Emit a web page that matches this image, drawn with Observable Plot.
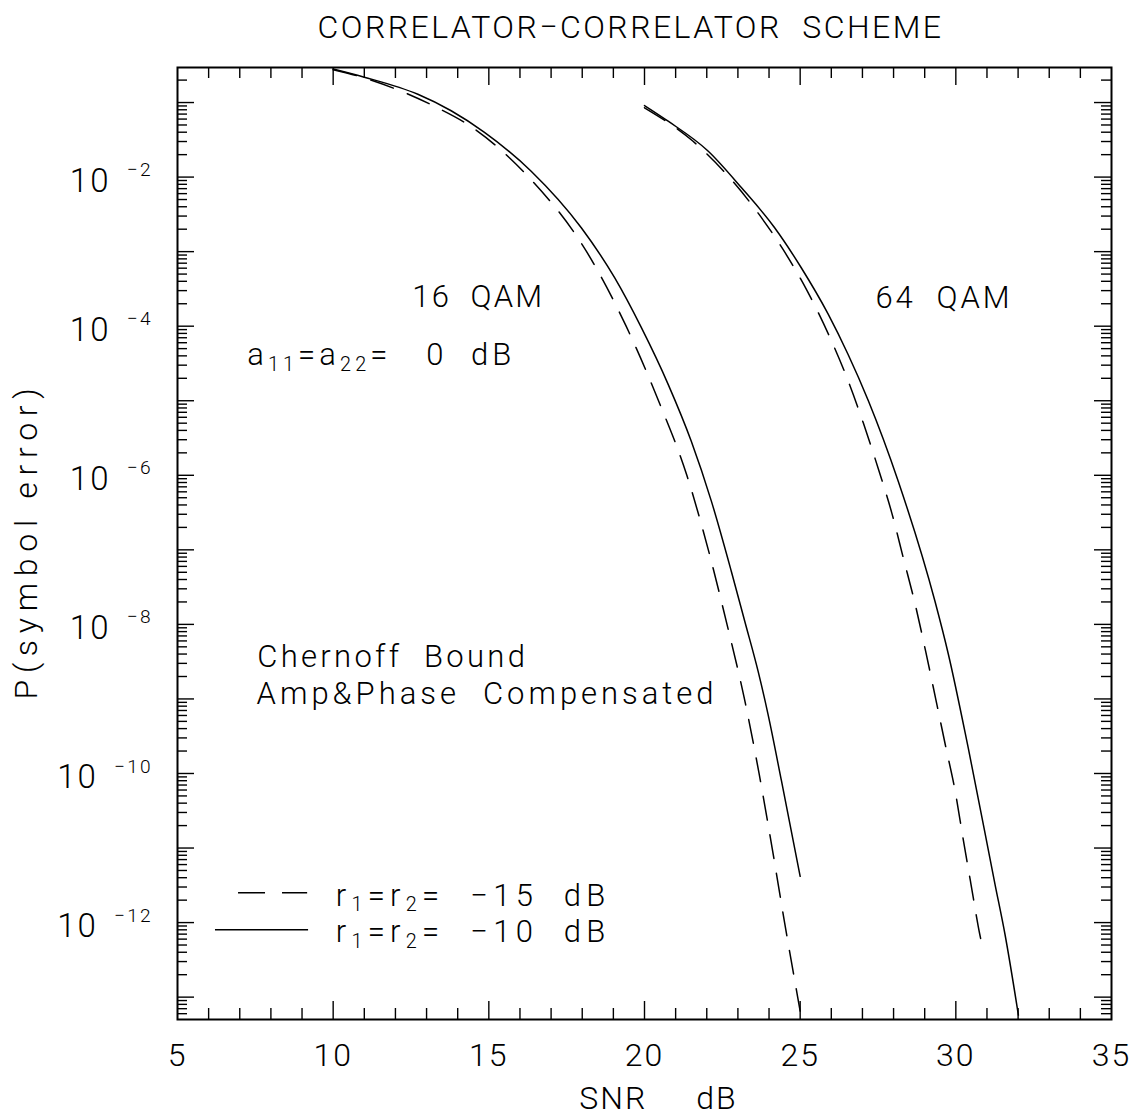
<!DOCTYPE html>
<html><head><meta charset="utf-8">
<script src="https://cdn.jsdelivr.net/npm/d3@7"></script>
<script src="https://cdn.jsdelivr.net/npm/@observablehq/plot@0.6"></script>
<style>
html,body{margin:0;padding:0;background:#fff;}
</style></head><body><div id="chart"></div>
<script>
// ---- data ----
const snr16Solid = [10.0, 11.0, 12.72, 13.79, 14.86, 16.36, 17.97, 19.04, 19.90, 20.76, 21.50, 22.15, 22.79, 23.22, 23.65, 23.97, 24.40, 25.0];
const pe16Solid  = [2.82e-1, 2.19e-1, 1.29e-1, 7.76e-2, 3.98e-2, 1.20e-2, 2.09e-3, 4.47e-4, 9.55e-5, 1.66e-5, 2.88e-6, 4.47e-7, 5.13e-8, 1.10e-8, 2.34e-9, 6.17e-10, 7.94e-11, 4.17e-12];

const snr16Dashed = [10.0, 11.0, 12.2, 13.25, 14.49, 15.66, 16.28, 18.14, 19.41, 20.45, 21.36, 22.05, 22.65, 23.21, 23.68, 24.10, 24.50, 24.92, 25.0];
const pe16Dashed  = [2.75e-1, 2.14e-1, 1.41e-1, 8.91e-2, 4.57e-2, 1.82e-2, 1e-2, 1e-3, 1e-4, 1e-5, 1e-6, 1e-7, 1e-8, 1e-9, 1e-10, 1e-11, 1e-12, 1e-13, 6.5e-14];

const snr64Solid = [20.0, 20.76, 22.04, 23.11, 24.18, 25.04, 25.90, 26.54, 27.19, 28.15, 29.33, 29.76, 30.40, 31.26, 31.58, 32.01];
const pe64Solid  = [9.12e-2, 5.62e-2, 2.24e-2, 7.24e-3, 2.09e-3, 6.03e-4, 1.45e-4, 4.17e-5, 1.0e-5, 8.32e-7, 2.04e-8, 3.98e-9, 2.19e-10, 3.24e-12, 6.92e-13, 5.75e-14];

const snr64Dashed = [20.0, 21.56, 22.63, 23.59, 24.45, 25.23, 25.90, 26.49, 27.03, 27.53, 27.94, 28.32, 28.70, 29.03, 29.35, 29.66, 29.98, 30.24, 30.48, 30.77, 30.85];
const pe64Dashed  = [8.51e-2, 3.02e-2, 1.096e-2, 3.55e-3, 1.07e-3, 2.95e-4, 7.94e-5, 2.09e-5, 5.01e-6, 1.15e-6, 3.16e-7, 7.59e-8, 1.82e-8, 4.37e-9, 1.02e-9, 2.45e-10, 5.75e-11, 1.29e-11, 3.39e-12, 6.92e-13, 4.79e-13];

const xTickLabels = [5, 10, 15, 20, 25, 30, 35];
const yTickExponents = [-2, -4, -6, -8, -10, -12];
const legendLabels = ["r_{1}=r_{2}=\u00a0\u00a0−15\u00a0\u00a0dB", "r_{1}=r_{2}=\u00a0\u00a0−10\u00a0\u00a0dB"];

const titleText = "CORRELATOR−CORRELATOR\u00a0\u00a0SCHEME";
const xLabel = "SNR\u00a0\u00a0\u00a0\u00a0\u00a0dB";
const yLabel = "P(symbol error)";
const label16 = "16\u00a0\u00a0QAM";
const label64 = "64\u00a0\u00a0QAM";
const labelGain = "a_{11}=a_{22}=\u00a0\u00a0\u00a00\u00a0\u00a0dB";
const labelMethod = ["Chernoff\u00a0\u00a0Bound", "Amp&Phase\u00a0\u00a0Compensated"];

// ---- layout ----
const W = 1142, H = 1116;
const mL = 177, mR = 31, mT = 67, mB = 97;
const FW = W - mL - mR, FH = H - mT - mB;
const xDomain = [5, 35];
const yDomain = [10 ** -13.3, 10 ** -0.53];
const FONT = "'Roboto', 'Noto Sans', sans-serif";

const toRows = (xs, ys) => xs.map((x, i) => ({snr: x, pe: ys[i]}));

// tick values
const yMajor = d3.range(-13, 0).map(d => 10 ** d);
const yMinor = [];
for (let d = -14; d <= -1; d++) for (let k = 2; k <= 9; k++) {
  const v = k * 10 ** d;
  if (v > yDomain[0] && v < yDomain[1]) yMinor.push(v);
}
const xAll = d3.range(6, 35);
const xMajor = xAll.filter(v => v % 5 === 0);
const xMinor = xAll.filter(v => v % 5 !== 0);

// text placement (layout)
const annotations = [
  {x: 12.54, y: 10 ** -3.745, text: label16},
  {x: 27.42, y: 10 ** -3.759, text: label64},
  {x: 7.24, y: 10 ** -4.527, text: labelGain},
  {x: 7.56, y: 10 ** -8.578, text: labelMethod[0]},
  {x: 7.54, y: 10 ** -9.065, text: labelMethod[1]},
  {x: 10.08, y: 10 ** -11.771, text: legendLabels[0]},
  {x: 10.08, y: 10 ** -12.267, text: legendLabels[1]}
];
const legendLines = [
  {x1: 6.96, x2: 9.18, y: 10 ** -11.60, dash: "27,17"},
  {x1: 6.22, x2: 9.21, y: 10 ** -12.097, dash: null}
];
// widths (px) of some texts in the reference
const targetWidths = {
  [titleText]: 626, [yLabel]: 318, [legendLabels[0]]: 275, [legendLabels[1]]: 275,
  [labelGain]: 268, [labelMethod[0]]: 271, [labelMethod[1]]: 461, [label16]: 132, [label64]: 137
};

const MAJ = 17, MIN = 10, XMAJ = 18, XMIN = 11;
const tickStyle = {stroke: "#000", strokeWidth: 1.4};
const TXT = {fill: "#000", fontWeight: 300};

const chart = Plot.plot({
  width: W, height: H,
  marginLeft: mL, marginRight: mR, marginTop: mT, marginBottom: mB,
  style: {fontFamily: FONT, fontSize: "31px", fontWeight: "300", letterSpacing: "2px", background: "#fff", color: "#000", overflow: "visible"},
  x: {domain: xDomain, axis: null},
  y: {type: "log", domain: yDomain, axis: null},
  marks: [
    // inward ticks on all four sides
    Plot.tickY(yMajor, {y: d => d, insetRight: FW - MAJ, ...tickStyle}),
    Plot.tickY(yMinor, {y: d => d, insetRight: FW - MIN, ...tickStyle}),
    Plot.tickY(yMajor, {y: d => d, insetLeft: FW - MAJ, ...tickStyle}),
    Plot.tickY(yMinor, {y: d => d, insetLeft: FW - MIN, ...tickStyle}),
    Plot.tickX(xMajor, {x: d => d, insetTop: FH - XMAJ, ...tickStyle}),
    Plot.tickX(xMinor, {x: d => d, insetTop: FH - XMIN, ...tickStyle}),
    Plot.tickX(xMajor, {x: d => d, insetBottom: FH - XMAJ, ...tickStyle}),
    Plot.tickX(xMinor, {x: d => d, insetBottom: FH - XMIN, ...tickStyle}),
    Plot.frame({stroke: "#000", strokeWidth: 2}),
    // curves
    Plot.line(toRows(snr16Solid, pe16Solid), {x: "snr", y: "pe", stroke: "#000", strokeWidth: 1.5, curve: "monotone-x"}),
    Plot.line(toRows(snr16Dashed, pe16Dashed), {x: "snr", y: "pe", stroke: "#000", strokeWidth: 1.5, strokeDasharray: "24,15", curve: "monotone-x"}),
    Plot.line(toRows(snr64Solid, pe64Solid), {x: "snr", y: "pe", stroke: "#000", strokeWidth: 1.5, curve: "monotone-x"}),
    Plot.line(toRows(snr64Dashed, pe64Dashed), {x: "snr", y: "pe", stroke: "#000", strokeWidth: 1.5, strokeDasharray: "24,15", curve: "monotone-x"}),
    // legend samples
    Plot.ruleY(legendLines.filter(d => d.dash), {y: "y", x1: "x1", x2: "x2", stroke: "#000", strokeWidth: 1.5, strokeDasharray: "27,17"}),
    Plot.ruleY(legendLines.filter(d => !d.dash), {y: "y", x1: "x1", x2: "x2", stroke: "#000", strokeWidth: 1.5}),
    // annotations & legend text
    Plot.text(annotations, {x: "x", y: "y", text: "text", textAnchor: "start", lineAnchor: "bottom", fontSize: 31, ...TXT}),
    // axes labels
    Plot.text(xTickLabels, {x: d => d, text: d => String(d), frameAnchor: "bottom", lineAnchor: "bottom", dy: 46, fontSize: 32, ...TXT}),
    Plot.text(yTickExponents, {y: d => 10 ** d, text: d => `10^{−${-d}}`, frameAnchor: "left", textAnchor: "end", lineAnchor: "bottom", dx: -25, dy: 14.6, fontSize: 33, ...TXT}),
    Plot.text([xLabel], {text: d => d, frameAnchor: "bottom", textAnchor: "middle", lineAnchor: "bottom", dy: 89, dx: 14, fontSize: 32, ...TXT}),
    Plot.text([yLabel], {text: d => d, frameAnchor: "left", textAnchor: "middle", lineAnchor: "bottom", rotate: -90, dx: -141, dy: -3, fontSize: 32, ...TXT}),
    Plot.text([titleText], {text: d => d, frameAnchor: "top", textAnchor: "middle", lineAnchor: "bottom", dy: -30, dx: -14, fontSize: 32, ...TXT})
  ]
});

document.getElementById("chart").appendChild(chart);

// turn _{..} and ^{..} markup into real sub/superscript tspans, then fit widths
function richLine(el, s, fs) {
  const NS = "http://www.w3.org/2000/svg";
  if (!/[_^]\{/.test(s)) return;
  el.textContent = "";
  let off = 0, last = 0, m;
  const re = /([_^])\{([^}]*)\}/g;
  const add = (str, kind) => {
    if (!str) return;
    const ts = document.createElementNS(NS, "tspan");
    ts.textContent = str;
    const target = kind === "_" ? fs * 0.17 : kind === "^" ? -fs * 0.47 : 0;
    const dy = target - off; off = target;
    if (dy) ts.setAttribute("dy", dy);
    if (kind === "_") ts.setAttribute("font-size", fs * 0.64);
    if (kind === "^") { ts.setAttribute("font-size", fs * 0.58); ts.setAttribute("dx", fs * 0.5); }
    el.appendChild(ts);
  };
  while ((m = re.exec(s))) { add(s.slice(last, m.index), null); add(m[2], m[1]); last = re.lastIndex; }
  add(s.slice(last), null);
}
function finishText(svg) {
  svg.querySelectorAll("text").forEach(t => {
    const fs = parseFloat(getComputedStyle(t).fontSize) || 32;
    const lines = t.children.length ? Array.from(t.children) : [t];
    lines.forEach(line => {
      const src = line.textContent;
      richLine(line, src, fs);
      const target = targetWidths[src];
      if (target) {
        const n = src.replace(/[_^]\{([^}]*)\}/g, "$1").length;
        line.style.letterSpacing = "0px";
        const len0 = line.getComputedTextLength();
        line.style.letterSpacing = ((target - len0) / n).toFixed(2) + "px";
      }
    });
  });
}
finishText(chart);
</script>
</body></html>
